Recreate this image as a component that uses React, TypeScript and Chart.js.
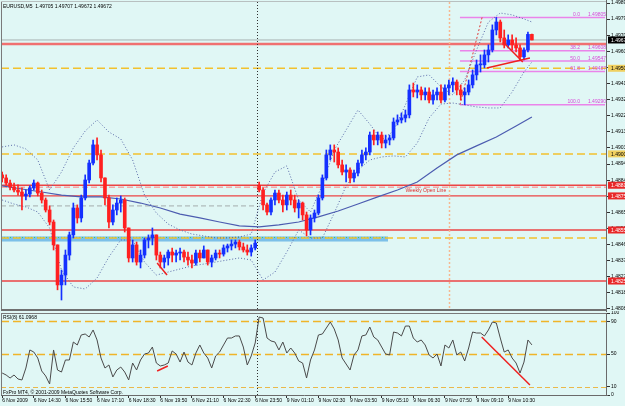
import React, { useEffect, useRef } from "react";
import { Chart, registerables } from "chart.js";
Chart.register(...registerables);

// ---------- DATA ----------
const closes = [
  1.48858, 1.48828, 1.48805, 1.48787, 1.48775, 1.48752, 1.48763, 1.48799, 1.48828, 1.48769,
  1.48728, 1.48669, 1.48598, 1.48463, 1.48227, 1.48285, 1.48403, 1.48522, 1.48681, 1.48622,
  1.48740, 1.48846, 1.48946, 1.49053, 1.48994, 1.48858, 1.48740, 1.48598, 1.48669, 1.48710,
  1.48728, 1.48563, 1.48386, 1.48463, 1.48362, 1.48403, 1.48492, 1.48504, 1.48522, 1.48403,
  1.48362, 1.48386, 1.48421, 1.48403, 1.48415, 1.48421, 1.48391, 1.48374, 1.48356, 1.48415,
  1.48386, 1.48433, 1.48362, 1.48386, 1.48415, 1.48409, 1.48445, 1.48457, 1.48468, 1.48480,
  1.48451, 1.48433, 1.48421, 1.48445, 1.48474, 1.48787, 1.48699, 1.48657, 1.48728, 1.48769,
  1.48728, 1.48699, 1.48757, 1.48728, 1.48681, 1.48710, 1.48640, 1.48551, 1.48622, 1.48651,
  1.48740, 1.48858, 1.48994, 1.49023, 1.49011, 1.48935, 1.48893, 1.48905, 1.48858, 1.48887,
  1.48946, 1.48994, 1.49011, 1.49111, 1.49082, 1.49111, 1.49064, 1.49082, 1.49094, 1.49188,
  1.49200, 1.49212, 1.49230, 1.49377, 1.49365, 1.49377, 1.49348, 1.49365, 1.49318, 1.49348,
  1.49365, 1.49318, 1.49389, 1.49407, 1.49424, 1.49377, 1.49348, 1.49365, 1.49407, 1.49466,
  1.49525, 1.49525, 1.49584, 1.49613, 1.49731, 1.49778, 1.49684, 1.49643, 1.49672, 1.49643,
  1.49625, 1.49572, 1.49613, 1.49705, 1.49672,
];
const highs = [
  1.48893, 1.48876, 1.48846, 1.48828, 1.48817, 1.48799, 1.48787, 1.48811, 1.48846, 1.48834,
  1.48787, 1.48740, 1.48693, 1.48610, 1.48463, 1.48315, 1.48433, 1.48539, 1.48710, 1.48699,
  1.48757, 1.48876, 1.48964, 1.49082, 1.49094, 1.49023, 1.48858, 1.48757, 1.48699, 1.48740,
  1.48752, 1.48740, 1.48563, 1.48492, 1.48480, 1.48433, 1.48504, 1.48522, 1.48563, 1.48522,
  1.48421, 1.48403, 1.48433, 1.48445, 1.48433, 1.48445, 1.48433, 1.48421, 1.48403, 1.48433,
  1.48433, 1.48457, 1.48433, 1.48403, 1.48433, 1.48433, 1.48463, 1.48468, 1.48492, 1.48492,
  1.48492, 1.48474, 1.48463, 1.48463, 1.48492, 1.48834, 1.48799, 1.48710, 1.48740, 1.48787,
  1.48787, 1.48757, 1.48775, 1.48787, 1.48757, 1.48728, 1.48716, 1.48657, 1.48640, 1.48669,
  1.48757, 1.48876, 1.49023, 1.49053, 1.49053, 1.49035, 1.48964, 1.48935, 1.48917, 1.48905,
  1.48964, 1.49023, 1.49035, 1.49129, 1.49141, 1.49129, 1.49129, 1.49111, 1.49111, 1.49212,
  1.49230, 1.49241, 1.49259, 1.49407, 1.49418, 1.49407, 1.49395, 1.49389, 1.49389, 1.49377,
  1.49389, 1.49407, 1.49407, 1.49436, 1.49448, 1.49436, 1.49407, 1.49389, 1.49436, 1.49495,
  1.49554, 1.49584, 1.49613, 1.49643, 1.49761, 1.49805, 1.49790, 1.49731, 1.49702, 1.49702,
  1.49684, 1.49643, 1.49625, 1.49719, 1.49707,
];
const lows = [
  1.48834, 1.48817, 1.48787, 1.48775, 1.48757, 1.48669, 1.48728, 1.48746, 1.48787, 1.48752,
  1.48710, 1.48657, 1.48581, 1.48433, 1.48198, 1.48138, 1.48227, 1.48374, 1.48504, 1.48592,
  1.48598, 1.48728, 1.48828, 1.48935, 1.48964, 1.48834, 1.48699, 1.48563, 1.48581, 1.48640,
  1.48657, 1.48539, 1.48362, 1.48362, 1.48344, 1.48327, 1.48386, 1.48445, 1.48463, 1.48374,
  1.48327, 1.48327, 1.48344, 1.48362, 1.48362, 1.48374, 1.48362, 1.48344, 1.48327, 1.48344,
  1.48362, 1.48386, 1.48344, 1.48333, 1.48374, 1.48386, 1.48397, 1.48421, 1.48433, 1.48445,
  1.48433, 1.48421, 1.48403, 1.48397, 1.48433, 1.48775, 1.48669, 1.48640, 1.48640, 1.48699,
  1.48710, 1.48657, 1.48669, 1.48699, 1.48657, 1.48622, 1.48610, 1.48516, 1.48522, 1.48598,
  1.48640, 1.48728, 1.48846, 1.48964, 1.48952, 1.48917, 1.48876, 1.48834, 1.48828, 1.48834,
  1.48870, 1.48929, 1.48964, 1.48994, 1.49053, 1.49053, 1.49035, 1.49035, 1.49053, 1.49082,
  1.49171, 1.49182, 1.49188, 1.49212, 1.49336, 1.49330, 1.49318, 1.49318, 1.49300, 1.49294,
  1.49318, 1.49300, 1.49306, 1.49348, 1.49365, 1.49348, 1.49318, 1.49290, 1.49348, 1.49389,
  1.49436, 1.49483, 1.49507, 1.49542, 1.49601, 1.49702, 1.49660, 1.49625, 1.49625, 1.49613,
  1.49601, 1.49554, 1.49554, 1.49601, 1.49672,
];
const firstOpen = 1.48876;
const weekOpenIndex = 65;
const weekOpen = 1.48815;

const maIdx = [0, 5, 10, 15, 20, 25, 30, 35, 40, 45, 50, 55, 60, 65, 70, 75, 80, 85, 90, 95, 100, 105, 110, 115, 120, 125, 130, 134];
const maVals = [
  1.48811, 1.48793, 1.48775, 1.48757, 1.48746, 1.48746, 1.48734, 1.48710, 1.48681, 1.48645,
  1.48622, 1.48598, 1.48575, 1.48569, 1.48581, 1.48598, 1.48628, 1.48663, 1.48704, 1.48746,
  1.48787, 1.48834, 1.48917, 1.48994, 1.49047, 1.49100, 1.49165, 1.49218,
];

const bbIdx = [0, 3, 6, 9, 12, 15, 18, 21, 24, 27, 30, 33, 36, 39, 42, 45, 48, 51, 54, 57, 60, 63, 66, 69, 72, 75, 78, 81, 84, 87, 90, 93, 96, 99, 102, 105, 108, 111, 114, 117, 120, 123, 126, 129, 132, 134];
const bbUpper = [
  1.49041, 1.49053, 1.49029, 1.48964, 1.48787, 1.48893, 1.49035, 1.49135, 1.49200, 1.49129,
  1.49088, 1.48964, 1.48757, 1.48651, 1.48586, 1.48551, 1.48527, 1.48516, 1.48504, 1.48504,
  1.48510, 1.48527, 1.48769, 1.48893, 1.48929, 1.48728, 1.48657, 1.48817, 1.49023, 1.49141,
  1.49259, 1.49176, 1.49082, 1.49135, 1.49289, 1.49454, 1.49466, 1.49395, 1.49348, 1.49436,
  1.49613, 1.49778, 1.49831, 1.49820, 1.49796, 1.49778,
];
const bbLower = [
  1.48728, 1.48704, 1.48687, 1.48657, 1.48563, 1.48315, 1.48215, 1.48203, 1.48268, 1.48392,
  1.48492, 1.48492, 1.48362, 1.48285, 1.48303, 1.48321, 1.48339, 1.48350, 1.48362, 1.48374,
  1.48386, 1.48374, 1.48256, 1.48303, 1.48421, 1.48551, 1.48504, 1.48504, 1.48651, 1.48811,
  1.48905, 1.48964, 1.48982, 1.48988, 1.48982, 1.49064, 1.49212, 1.49294, 1.49300, 1.49289,
  1.49277, 1.49271, 1.49271, 1.49365, 1.49483, 1.49542,
];

const rsi = [
  26.8, 24.4, 20.7, 24.4, 19.5, 18.3, 32.9, 54.9, 52.4, 45.1,
  29.3, 23.2, 13.4, 54.9, 30.5, 28.0, 42.7, 42.7, 64.6, 61.0,
  73.2, 74.4, 70.7, 79.3, 67.1, 45.1, 32.9, 36.6, 22.0, 30.5,
  34.1, 28.0, 18.3, 39.0, 30.5, 42.7, 50.0, 51.2, 58.5, 39.0,
  35.4, 36.6, 39.0, 53.7, 50.0, 40.2, 52.4, 40.2, 36.6, 51.2,
  61.0, 51.2, 45.1, 32.9, 47.6, 52.4, 61.0, 69.5, 69.5, 72.0,
  72.0, 58.5, 36.6, 47.6, 63.4, 95.1, 93.9, 69.5, 65.9, 64.6,
  54.9, 64.6, 51.2, 57.3, 51.2, 41.5, 39.0, 20.7, 42.7, 54.9,
  73.2, 74.4, 81.7, 89.0, 80.5, 67.1, 45.1, 37.8, 30.5, 48.8,
  54.9, 72.0, 73.2, 82.9, 70.7, 67.1, 58.5, 50.0, 48.8, 76.8,
  75.6, 72.0, 84.1, 84.1, 69.5, 64.6, 67.1, 61.0, 48.8, 45.1,
  50.0, 35.4, 61.0, 57.3, 67.1, 48.8, 52.4, 41.5, 57.3, 76.8,
  75.6, 75.6, 72.0, 79.3, 89.0, 87.8, 69.5, 52.4, 54.9, 45.1,
  39.0, 26.8, 40.2, 67.1, 61.1,
];

const priceTicks = [
  1.4989, 1.49795, 1.497, 1.49605, 1.4951, 1.49415, 1.4932, 1.49225, 1.4913, 1.49035,
  1.4894, 1.48845, 1.4875, 1.48655, 1.4856, 1.48465, 1.4837, 1.48275, 1.4818, 1.48085,
];
const timeTickIdx = [0, 8, 16, 24, 32, 40, 48, 56, 64, 72, 80, 88, 96, 104, 112, 120, 128];
const timeLabels = [
  "6 Nov 2009", "6 Nov 14:30", "6 Nov 15:50", "6 Nov 17:10", "6 Nov 18:30", "6 Nov 19:50",
  "6 Nov 21:10", "6 Nov 22:30", "6 Nov 23:50", "9 Nov 01:10", "9 Nov 02:30", "9 Nov 03:50",
  "9 Nov 05:10", "9 Nov 06:30", "9 Nov 07:50", "9 Nov 09:10", "9 Nov 10:30",
];
const rsiTicks = [0, 10, 50, 90, 100];
const rsiLevels = [90, 50, 10];

// chart objects (prices / bar indexes)
const redLines = [1.48815, 1.48752, 1.48551, 1.4825];
const yellowLines = [1.49505, 1.49, 1.48504];
const resistanceLine = 1.49648;
const grayDash = { price: 1.48693, endIdx: 64 };
const band = { top: 1.48513, bottom: 1.48483, endIdx: 97.6 };
const sessionBreakIdx = 64.5;
const fibTimeIdx = 113;
const fibHigh = 1.49805;
const fibLow = 1.4929;
const fibStartIdx = 115.8;
const fibHighIdx = 121.4;
const fibEndIdx = 152.5;
const fibLevels = [0, 38.2, 50, 61.8, 100];
const patternLines = [
  [122.6, 1.49507, 133.5, 1.49566],
  [126.7, 1.4966, 131.7, 1.49542],
  [39.2, 1.48356, 41.7, 1.48285],
];
const rsiPatternLines = [
  [39.2, 29.3, 41.9, 35.4],
  [121.3, 70.7, 133.5, 12.2],
];
const weeklyTextIdx = 102;
const priceBoxes = [
  { price: 1.49505, bg: "#f0d060", fg: "#000" },
  { price: 1.49, bg: "#f0d060", fg: "#000" },
  { price: 1.48815, bg: "#e82828", fg: "#fff" },
  { price: 1.48752, bg: "#e82828", fg: "#fff" },
  { price: 1.48551, bg: "#e82828", fg: "#fff" },
  { price: 1.4825, bg: "#e82828", fg: "#fff" },
  { price: 1.49672, bg: "#000", fg: "#fff" },
];

// ---------- STYLE ----------
const FONT = '"Liberation Sans", Arial, sans-serif';
const BG = "#e0f7f5";
const BULL = "#1430ff";
const BEAR = "#ff2020";
const X_MIN = -0.3;
const X_MAX = 153;
const P_MIN = 1.48079;
const P_MAX = 1.49896;

function line(ctx: CanvasRenderingContext2D, x1: number, y1: number, x2: number, y2: number, color: string, width: number, dash: number[] = []) {
  ctx.save();
  ctx.strokeStyle = color;
  ctx.lineWidth = width;
  ctx.setLineDash(dash);
  ctx.beginPath();
  ctx.moveTo(x1, y1);
  ctx.lineTo(x2, y2);
  ctx.stroke();
  ctx.restore();
}
function text(ctx: CanvasRenderingContext2D, s: string, x: number, y: number, color: string, align: CanvasTextAlign = "left") {
  ctx.save();
  ctx.font = `5px ${FONT}`;
  ctx.fillStyle = color;
  ctx.textAlign = align;
  ctx.textBaseline = "alphabetic";
  ctx.fillText(s, x, y);
  ctx.restore();
}

export default function App() {
  const mainRef = useRef<HTMLCanvasElement>(null);
  const rsiRef = useRef<HTMLCanvasElement>(null);

  useEffect(() => {
    const opens = closes.map((c, i) => (i === 0 ? firstOpen : i === weekOpenIndex ? weekOpen : closes[i - 1]));
    const colors = closes.map((c, i) => (c >= opens[i] ? BULL : BEAR));
    const bodies = closes.map((c, i) => ({ x: i, y: [opens[i], c] }));
    const wicks = closes.map((c, i) => ({
      x: i,
      y: [Math.min(lows[i], opens[i], c), Math.max(highs[i], opens[i], c)],
    }));
    const lastClose = closes[closes.length - 1];

    const mainOverlay = {
      id: "mainOverlay",
      beforeDatasetsDraw(chart: any) {
        const { ctx, chartArea: a } = chart;
        const px = (v: number) => chart.scales.x.getPixelForValue(v);
        const py = (v: number) => chart.scales.y.getPixelForValue(v);
        ctx.save();
        ctx.beginPath();
        ctx.rect(a.left, a.top, a.right - a.left, a.bottom - a.top);
        ctx.clip();
        ctx.fillStyle = "#7cc0e8";
        ctx.fillRect(a.left, py(band.top), px(band.endIdx) - a.left, py(band.bottom) - py(band.top));
        line(ctx, a.left, py(band.top) + 1, px(band.endIdx), py(band.top) + 1, "#46d046", 1, [1, 2]);
        line(ctx, a.left, py(grayDash.price), px(grayDash.endIdx), py(grayDash.price), "#a4acac", 1, [5, 3]);
        for (const p of yellowLines) line(ctx, a.left, py(p), a.right, py(p), "#f2c12e", 1.5, [8, 4]);
        line(ctx, a.left, py(weekOpen) + 2, a.right, py(weekOpen) + 2, "#f4a8a8", 1.5, [6, 3]);
        for (const p of redLines) line(ctx, a.left, py(p), a.right, py(p), "#ec4444", 1.3);
        line(ctx, a.left, py(resistanceLine), a.right, py(resistanceLine), "#f07070", 2.5);
        line(ctx, a.left, py(lastClose), a.right, py(lastClose), "#a8b2b2", 1);
        const sx = Math.round(px(sessionBreakIdx)) + 0.5;
        line(ctx, sx, a.top, sx, a.bottom, "#303030", 1, [1, 2]);
        const fx = Math.round(px(fibTimeIdx)) + 0.5;
        line(ctx, fx, a.top, fx, a.bottom, "#f6b890", 1.5, [2, 2]);
        for (const lv of fibLevels) {
          const p = fibHigh - (fibHigh - fibLow) * lv / 100;
          line(ctx, px(fibStartIdx), py(p), px(fibEndIdx), py(p), "#ea84ea", 1.5);
        }
        line(ctx, px(fibStartIdx), py(fibLow), px(fibHighIdx), py(fibHigh), "#e03a3a", 1, [2, 2]);
        ctx.restore();
      },
      afterDatasetsDraw(chart: any) {
        const { ctx } = chart;
        const px = (v: number) => chart.scales.x.getPixelForValue(v);
        const py = (v: number) => chart.scales.y.getPixelForValue(v);
        for (const [x1, y1, x2, y2] of patternLines) line(ctx, px(x1), py(y1), px(x2), py(y2), "#ee2020", 1.5);
      },
      afterDraw(chart: any) {
        const { ctx, chartArea: a } = chart;
        const px = (v: number) => chart.scales.x.getPixelForValue(v);
        const py = (v: number) => chart.scales.y.getPixelForValue(v);
        line(ctx, a.left + 0.5, a.top, a.left + 0.5, a.bottom, "#7a7a7a", 1);
        line(ctx, a.left, a.top - 0.5, a.right, a.top - 0.5, "#b8c0c0", 1);
        line(ctx, a.right - 0.5, 0, a.right - 0.5, a.bottom + 2, "#6a6a6a", 1);
        line(ctx, a.left, a.bottom, a.right, a.bottom, "#707070", 2);
        text(ctx, "EURUSD,M5  1.49705 1.49707 1.49672 1.49672", a.left + 2, a.top + 6, "#000");
        text(ctx, "Weekly Open Line", px(weeklyTextIdx), py(weekOpen) + 7, "#e02a2a");
        for (const lv of fibLevels) {
          const p = fibHigh - (fibHigh - fibLow) * lv / 100;
          const y = py(p) - 1.5;
          text(ctx, lv.toFixed(1), px(fibEndIdx) - 25, y, "#d848d8", "right");
          text(ctx, p.toFixed(5), px(fibEndIdx) + 1, y, "#d848d8", "right");
        }
        for (const b of priceBoxes) {
          const y = py(b.price);
          ctx.fillStyle = b.bg;
          ctx.fillRect(a.right + 1, y - 3.5, 30, 7);
          text(ctx, b.price.toFixed(5), a.right + 4, y + 2, b.fg);
        }
      },
    };

    const rsiOverlay = {
      id: "rsiOverlay",
      beforeDatasetsDraw(chart: any) {
        const { ctx, chartArea: a } = chart;
        const px = (v: number) => chart.scales.x.getPixelForValue(v);
        const py = (v: number) => chart.scales.y.getPixelForValue(v);
        for (const lv of rsiLevels) {
          const y = Math.round(py(lv)) + 0.5;
          if (lv === 10) line(ctx, a.left, y, a.right, y, "#eab84a", 1, [5, 3]);
          else line(ctx, a.left, y, a.right, y, "#f0b428", 1.3, [8, 4]);
        }
        const sx = Math.round(px(sessionBreakIdx)) + 0.5;
        line(ctx, sx, a.top, sx, a.bottom, "#303030", 1, [1, 2]);
      },
      afterDatasetsDraw(chart: any) {
        const { ctx } = chart;
        const px = (v: number) => chart.scales.x.getPixelForValue(v);
        const py = (v: number) => chart.scales.y.getPixelForValue(v);
        for (const [x1, y1, x2, y2] of rsiPatternLines) line(ctx, px(x1), py(y1), px(x2), py(y2), "#ee2020", 1.5);
      },
      afterDraw(chart: any) {
        const { ctx, chartArea: a } = chart;
        line(ctx, a.left + 0.5, a.top, a.left + 0.5, a.bottom, "#7a7a7a", 1);
        line(ctx, a.left, a.top + 0.5, a.right, a.top + 0.5, "#7a7a7a", 1);
        line(ctx, a.right - 0.5, a.top, a.right - 0.5, a.bottom, "#6a6a6a", 1);
        text(ctx, "RSI(8) 61.0968", a.left + 2, a.top + 6, "#000");
        text(ctx, "FxPro MT4, \u00a9 2001-2009 MetaQuotes Software Corp.", a.left + 2, a.bottom - 1.5, "#000");
      },
    };

    const tickFont = { family: FONT, size: 5 };

    const main = new Chart(mainRef.current!, {
      type: "line",
      data: {
        datasets: [
          {
            type: "line",
            data: bbIdx.map((x, k) => ({ x, y: bbUpper[k] })),
            borderColor: "#5868a8",
            borderWidth: 1,
            borderDash: [1, 2],
            pointRadius: 0,
            order: 3,
          },
          {
            type: "line",
            data: bbIdx.map((x, k) => ({ x, y: bbLower[k] })),
            borderColor: "#5868a8",
            borderWidth: 1,
            borderDash: [1, 2],
            pointRadius: 0,
            order: 3,
          },
          {
            type: "line",
            data: maIdx.map((x, k) => ({ x, y: maVals[k] })),
            borderColor: "#4c5cb0",
            borderWidth: 1.2,
            pointRadius: 0,
            order: 2,
          },
          {
            type: "bar",
            data: wicks as any,
            backgroundColor: colors,
            barThickness: 1,
            grouped: false,
            order: 1,
          } as any,
          {
            type: "bar",
            data: bodies as any,
            backgroundColor: colors,
            barThickness: 3,
            minBarLength: 1,
            grouped: false,
            order: 0,
          } as any,
        ],
      },
      options: {
        animation: false,
        responsive: false,
        devicePixelRatio: 1,
        events: [],
        layout: { autoPadding: false, padding: { left: 1, top: 2, right: 0, bottom: 2 } },
        plugins: { legend: { display: false }, tooltip: { enabled: false } },
        scales: {
          x: { type: "linear", min: X_MIN, max: X_MAX, display: false, offset: false },
          y: {
            type: "linear",
            position: "right",
            min: P_MIN,
            max: P_MAX,
            afterFit: (s: any) => {
              s.width = 18;
              s.paddingTop = 0;
              s.paddingBottom = 0;
            },
            afterBuildTicks: (s: any) => {
              s.ticks = priceTicks.map((v) => ({ value: v }));
            },
            ticks: {
              font: tickFont,
              color: "#000",
              padding: 1,
              autoSkip: false,
              callback: (v: any) => Number(v).toFixed(5),
            },
            grid: { drawOnChartArea: false, drawTicks: true, tickLength: 3, color: "#303030" },
            border: { display: false },
          },
        },
      },
      plugins: [mainOverlay],
    } as any);

    const rsiChart = new Chart(rsiRef.current!, {
      type: "line",
      data: {
        datasets: [
          {
            data: rsi.map((v, i) => ({ x: i, y: v })),
            borderColor: "#4a4a4a",
            borderWidth: 1,
            pointRadius: 0,
            tension: 0,
          },
        ],
      },
      options: {
        animation: false,
        responsive: false,
        devicePixelRatio: 1,
        events: [],
        layout: { autoPadding: false, padding: { left: 1, top: 2, right: 0, bottom: 0 } },
        plugins: { legend: { display: false }, tooltip: { enabled: false } },
        scales: {
          x: {
            type: "linear",
            min: X_MIN,
            max: X_MAX,
            offset: false,
            afterFit: (s: any) => {
              s.height = 11;
              s.paddingLeft = 0;
              s.paddingRight = 0;
            },
            afterBuildTicks: (s: any) => {
              s.ticks = timeTickIdx.map((v) => ({ value: v }));
            },
            ticks: {
              font: tickFont,
              color: "#000",
              padding: 0,
              autoSkip: false,
              maxRotation: 0,
              minRotation: 0,
              align: "start",
              callback: (_v: any, idx: number) => timeLabels[idx],
            },
            grid: { drawOnChartArea: false, drawTicks: true, tickLength: 3, color: "#303030" },
            border: { display: true, color: "#6a6a6a" },
          },
          y: {
            type: "linear",
            position: "right",
            min: 0,
            max: 100,
            afterFit: (s: any) => {
              s.width = 18;
              s.paddingTop = 0;
              s.paddingBottom = 0;
            },
            afterBuildTicks: (s: any) => {
              s.ticks = rsiTicks.map((v) => ({ value: v }));
            },
            ticks: { font: tickFont, color: "#000", padding: 1, autoSkip: false },
            grid: { drawOnChartArea: false, drawTicks: true, tickLength: 3, color: "#303030" },
            border: { display: false },
          },
        },
      },
      plugins: [rsiOverlay],
    } as any);

    return () => {
      main.destroy();
      rsiChart.destroy();
    };
  }, []);

  return (
    <div style={{ position: "fixed", left: 0, top: 0, width: 625, height: 406, background: BG, overflow: "hidden" }}>
      <canvas ref={mainRef} width={625} height={312} style={{ position: "absolute", left: 0, top: 0, width: 625, height: 312 }} />
      <canvas ref={rsiRef} width={625} height={95} style={{ position: "absolute", left: 0, top: 311, width: 625, height: 95 }} />
    </div>
  );
}
